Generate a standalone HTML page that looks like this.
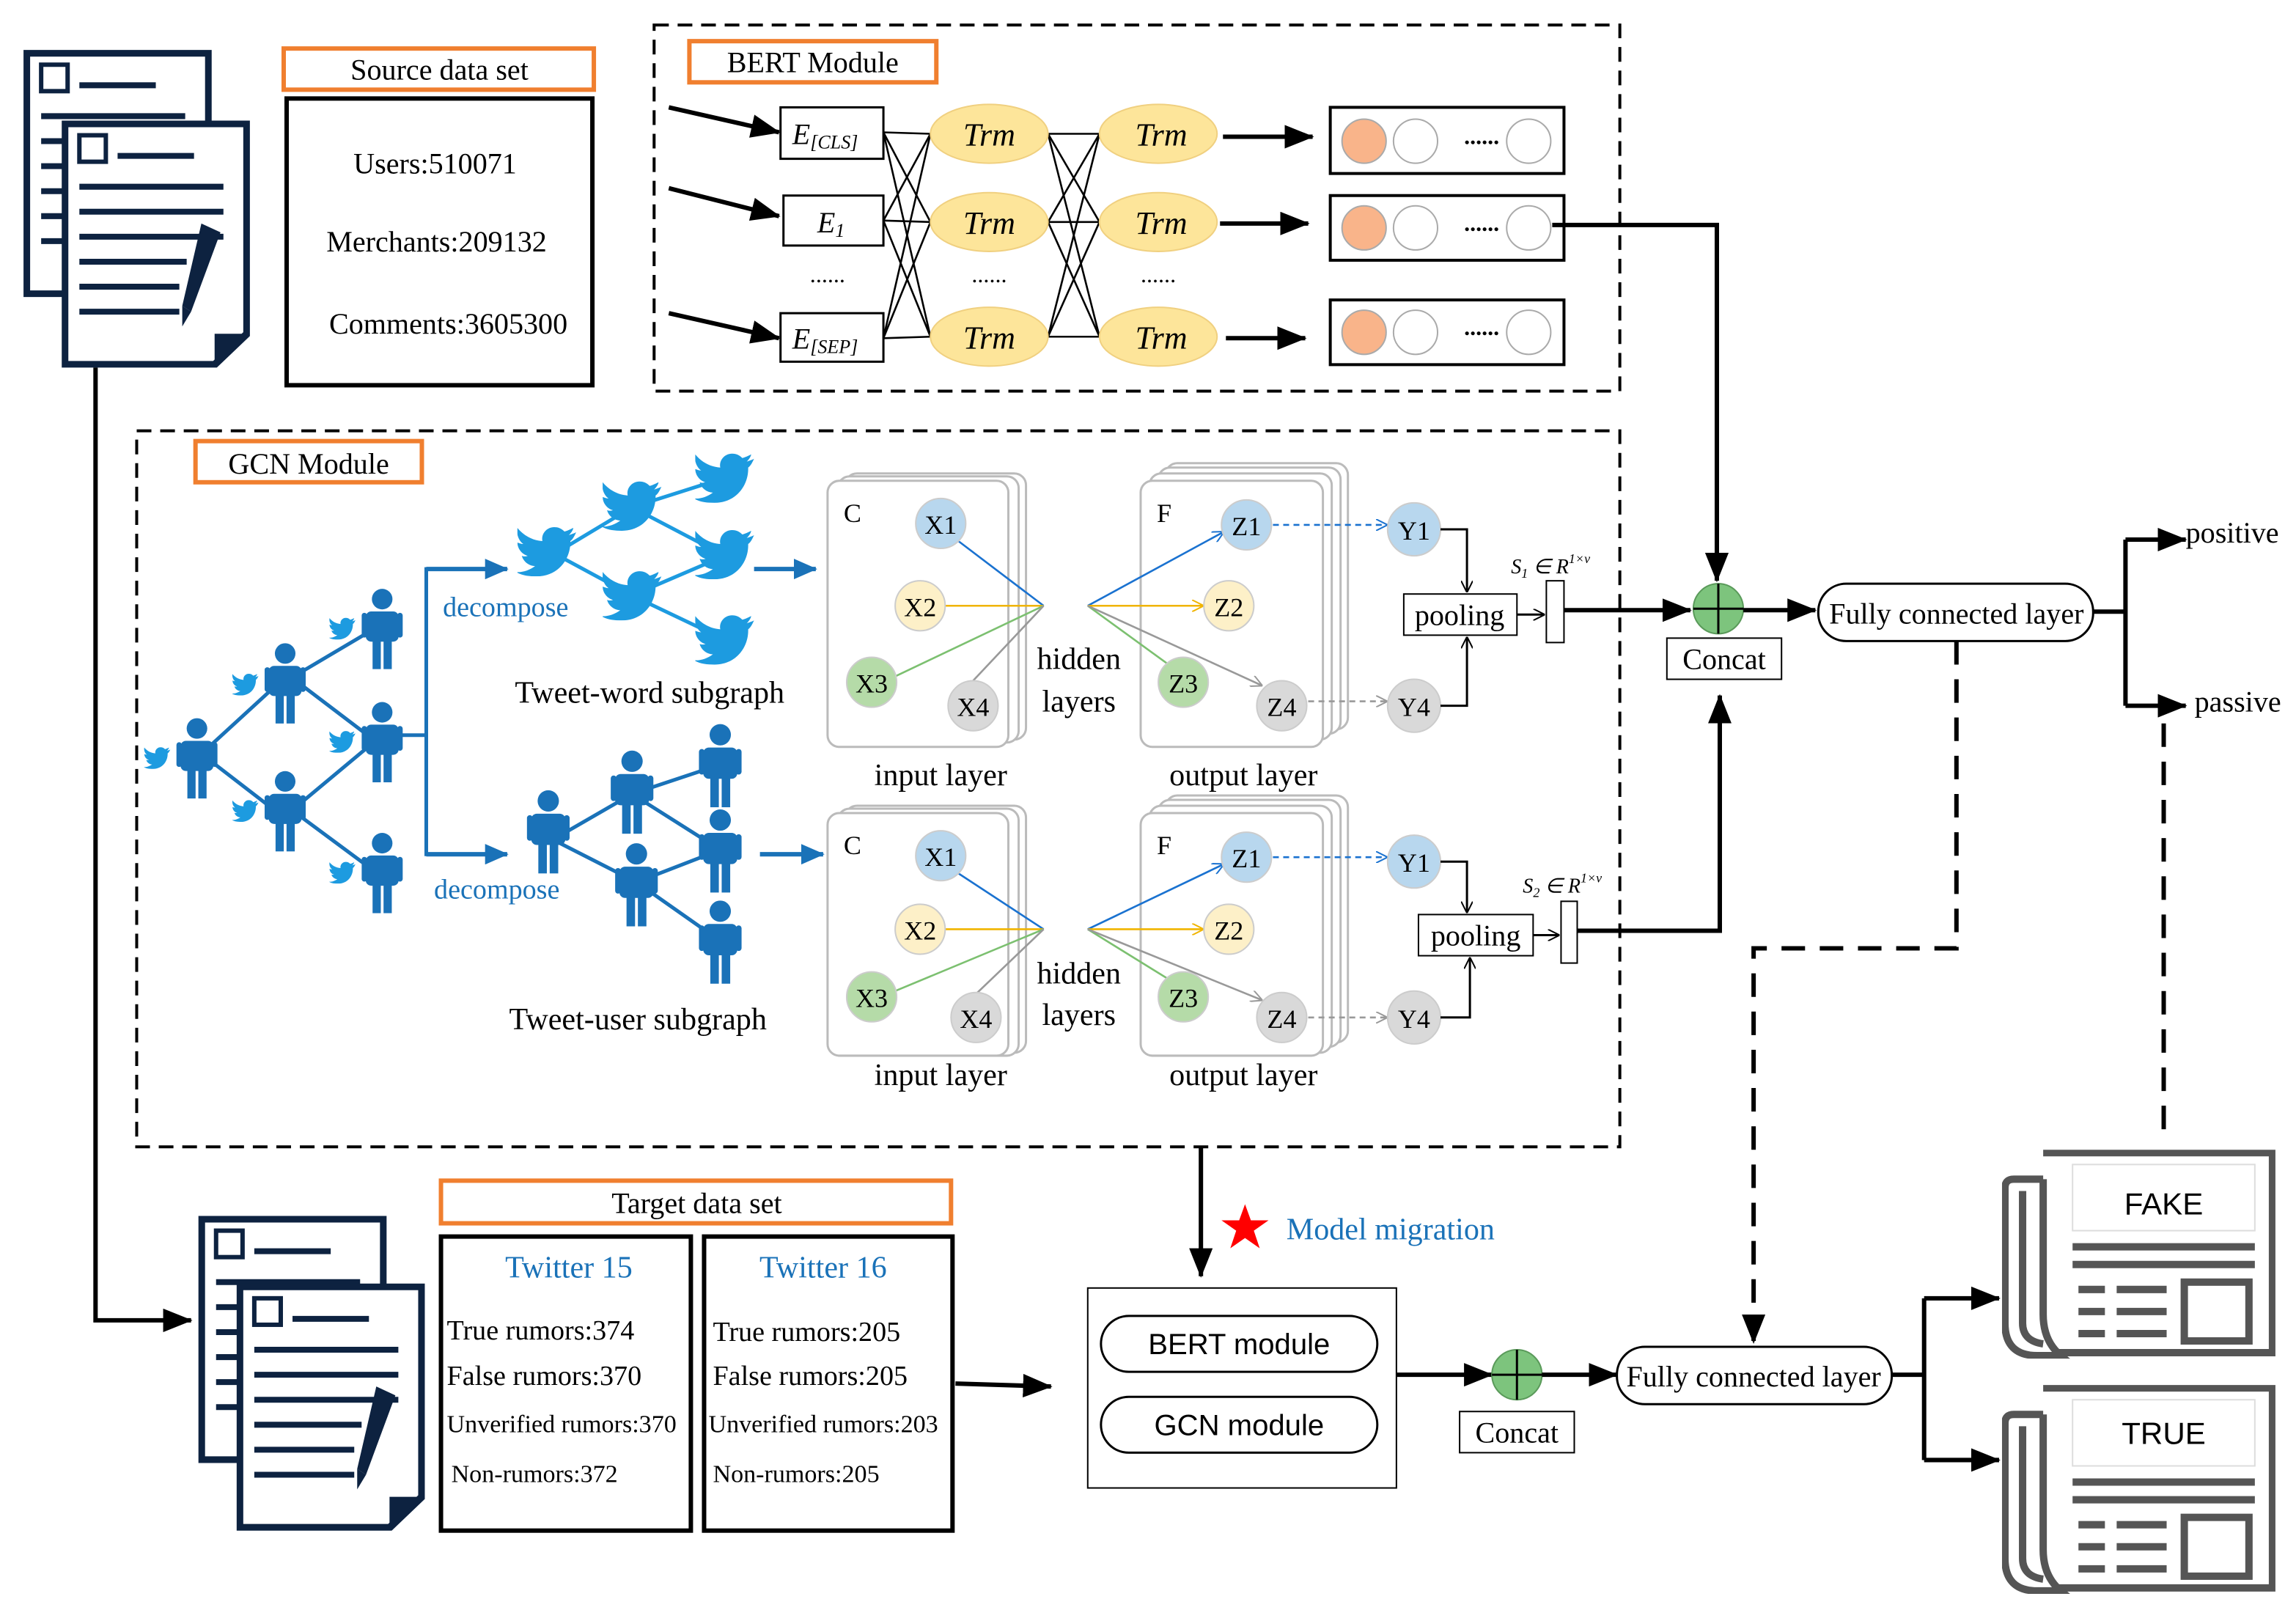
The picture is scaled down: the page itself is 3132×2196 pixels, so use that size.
<!DOCTYPE html>
<html><head><meta charset="utf-8"><style>html,body{margin:0;padding:0;background:#fff}svg{display:block}text{font-family:"Liberation Serif",serif}</style></head><body>
<svg width="3132" height="2196" viewBox="0 0 1562 1095" preserveAspectRatio="none" xmlns="http://www.w3.org/2000/svg">
<defs>
<marker id="ab" markerWidth="8" markerHeight="8" refX="7" refY="4" orient="auto" markerUnits="userSpaceOnUse"><path d="M0,0 L8,4 L0,8 z" fill="#000"/></marker>
<marker id="abig" markerWidth="20" markerHeight="16" refX="19" refY="8" orient="auto" markerUnits="userSpaceOnUse"><path d="M0,0 L20,8 L0,16 z" fill="#000"/></marker>
<marker id="ablue" markerWidth="16" markerHeight="14" refX="15" refY="7" orient="auto" markerUnits="userSpaceOnUse"><path d="M0,0 L16,7 L0,14 z" fill="#1a72b8"/></marker>
<marker id="sb" markerWidth="8" markerHeight="8" refX="7" refY="4" orient="auto" markerUnits="userSpaceOnUse"><path d="M0,0 L8,4 L0,8" fill="none" stroke="#1a72d0"/></marker>
<marker id="sg" markerWidth="8" markerHeight="8" refX="7" refY="4" orient="auto" markerUnits="userSpaceOnUse"><path d="M0,0 L8,4 L0,8" fill="none" stroke="#999"/></marker>
<marker id="so" markerWidth="8" markerHeight="8" refX="7" refY="4" orient="auto" markerUnits="userSpaceOnUse"><path d="M0,0 L8,4 L0,8" fill="none" stroke="#f0b400"/></marker>
<marker id="sk" markerWidth="8" markerHeight="8" refX="7" refY="4" orient="auto" markerUnits="userSpaceOnUse"><path d="M0,0 L8,4 L0,8" fill="none" stroke="#000"/></marker>
<symbol id="bird" viewBox="0 0 40 34"><path d="M40,4 C38,5 36,5.5 35,6 C37,4 38,2 38,1 C36,2 34,3 32,3.5 C30,1.5 28,0.5 25,0.5 C20,0.5 16,5 17,10 C10,9.5 4,6 0,1 C-1,5 1,10 4,12 C2.5,12 1.5,11.5 0,11 C0,15 3,19 7,20 C5.5,20.5 4.5,20.5 3,20 C4,24 8,27 12,27 C8,30 3,31.5 -1,31 C3,33.5 8,34 13,34 C28,34 36,22 36,11 L36,10 C38,8.5 39,6 40,4 z" fill="#1d9be0"/></symbol>
<symbol id="person" viewBox="0 0 30 60"><circle cx="15" cy="8" r="7.5" fill="#1a72b8"/><rect x="3" y="17" width="24" height="22" rx="4" fill="#1a72b8"/><rect x="8" y="38" width="6" height="21" fill="#1a72b8"/><rect x="16" y="38" width="6" height="21" fill="#1a72b8"/><rect x="0" y="18" width="4" height="18" rx="2" fill="#1a72b8"/><rect x="26" y="18" width="4" height="18" rx="2" fill="#1a72b8"/></symbol>
<symbol id="doc" viewBox="0 0 128 168"><path d="M2,2 H126 V145 L104,166 H2 Z" fill="#fff" stroke="#0d2240" stroke-width="5"/><path d="M104,166 V145 H126" fill="#0d2240"/><rect x="12" y="10" width="18" height="18" fill="none" stroke="#0d2240" stroke-width="3"/><g stroke="#0d2240" stroke-width="4"><line x1="38" y1="24" x2="90" y2="24"/><line x1="12" y1="45" x2="110" y2="45"/><line x1="12" y1="62" x2="110" y2="62"/><line x1="12" y1="79" x2="110" y2="79"/><line x1="12" y1="96" x2="85" y2="96"/><line x1="12" y1="113" x2="80" y2="113"/><line x1="12" y1="130" x2="80" y2="130"/></g><path d="M95,70 L108,76 L88,130 L82,126 Z" fill="#0d2240"/><path d="M82,126 L88,130 L82,140 Z" fill="#0d2240"/></symbol>
<symbol id="news" viewBox="0 0 186 142"><path d="M28,2 H184 V138 H28" fill="#fff" stroke="#555" stroke-width="5"/><path d="M28,20 H8 Q2,20 2,26 V118 Q2,140 24,140 H40 Q28,130 28,112 V20" fill="#fff" stroke="#555" stroke-width="5"/><path d="M14,28 V118 Q14,130 28,132" fill="none" stroke="#555" stroke-width="5"/><rect x="48" y="10" width="124" height="45" fill="#fff" stroke="#ddd"/><line x1="48" y1="66" x2="172" y2="66" stroke="#555" stroke-width="5"/><line x1="48" y1="78" x2="172" y2="78" stroke="#555" stroke-width="5"/><g stroke="#555" stroke-width="5"><line x1="52" y1="95" x2="70" y2="95"/><line x1="78" y1="95" x2="112" y2="95"/><line x1="52" y1="110" x2="70" y2="110"/><line x1="78" y1="110" x2="112" y2="110"/><line x1="52" y1="125" x2="70" y2="125"/><line x1="78" y1="125" x2="112" y2="125"/></g><rect x="124" y="90" width="44" height="40" fill="none" stroke="#555" stroke-width="5"/></symbol>
</defs>

<!-- top docs -->
<use href="#doc" x="16" y="34" width="128" height="168"/>
<use href="#doc" x="42" y="82" width="128" height="168"/>
<rect x="193" y="33" width="211" height="28" fill="none" stroke="#f07f2f" stroke-width="3"/>
<text x="299" y="54" font-size="20" text-anchor="middle">Source data set</text>
<rect x="195" y="67" width="208" height="195" fill="none" stroke="#000" stroke-width="3"/>
<text x="296" y="118" font-size="20" text-anchor="middle">Users:510071</text>
<text x="297" y="171" font-size="20" text-anchor="middle">Merchants:209132</text>
<text x="305" y="227" font-size="20" text-anchor="middle">Comments:3605300</text>

<!-- BERT -->
<rect x="445" y="17" width="657" height="249" fill="none" stroke="#000" stroke-width="2" stroke-dasharray="10,6"/>
<rect x="469" y="28" width="168" height="28" fill="#fff" stroke="#f07f2f" stroke-width="3"/>
<text x="553" y="49" font-size="20" text-anchor="middle">BERT Module</text>
<g stroke="#000" stroke-width="3"><line x1="455" y1="73" x2="530" y2="90" marker-end="url(#abig)"/><line x1="455" y1="128" x2="530" y2="147" marker-end="url(#abig)"/><line x1="455" y1="213" x2="530" y2="230" marker-end="url(#abig)"/></g>
<g fill="#fff" stroke="#000" stroke-width="1.5"><rect x="531" y="73" width="70" height="35"/><rect x="533" y="133" width="68" height="34"/><rect x="531" y="213" width="70" height="33"/></g>
<text x="539" y="98" font-size="20" font-style="italic">E<tspan font-size="13" dy="3">[CLS]</tspan></text>
<text x="556" y="158" font-size="20" font-style="italic">E<tspan font-size="13" dy="3">1</tspan></text>
<text x="539" y="237" font-size="20" font-style="italic">E<tspan font-size="13" dy="3">[SEP]</tspan></text>
<text x="563" y="192" font-size="16" text-anchor="middle">......</text>
<text x="673" y="192" font-size="16" text-anchor="middle">......</text>
<text x="788" y="192" font-size="16" text-anchor="middle">......</text>
<g stroke="#000" stroke-width="1.3">
<line x1="601" y1="90" x2="633" y2="91"/><line x1="601" y1="90" x2="633" y2="151"/><line x1="601" y1="90" x2="633" y2="229"/>
<line x1="601" y1="150" x2="633" y2="91"/><line x1="601" y1="150" x2="633" y2="151"/><line x1="601" y1="150" x2="633" y2="229"/>
<line x1="601" y1="230" x2="633" y2="91"/><line x1="601" y1="230" x2="633" y2="151"/><line x1="601" y1="230" x2="633" y2="229"/>
<line x1="713" y1="91" x2="748" y2="91"/><line x1="713" y1="91" x2="748" y2="151"/><line x1="713" y1="91" x2="748" y2="229"/>
<line x1="713" y1="151" x2="748" y2="91"/><line x1="713" y1="151" x2="748" y2="151"/><line x1="713" y1="151" x2="748" y2="229"/>
<line x1="713" y1="229" x2="748" y2="91"/><line x1="713" y1="229" x2="748" y2="151"/><line x1="713" y1="229" x2="748" y2="229"/>
</g>
<g fill="#fde59a" stroke="#f0d080"><ellipse cx="673" cy="91" rx="40" ry="20"/><ellipse cx="673" cy="151" rx="40" ry="20"/><ellipse cx="673" cy="229" rx="40" ry="20"/><ellipse cx="788" cy="91" rx="40" ry="20"/><ellipse cx="788" cy="151" rx="40" ry="20"/><ellipse cx="788" cy="229" rx="40" ry="20"/></g>
<g font-size="22" font-style="italic" text-anchor="middle"><text x="673" y="99">Trm</text><text x="673" y="159">Trm</text><text x="673" y="237">Trm</text><text x="790" y="99">Trm</text><text x="790" y="159">Trm</text><text x="790" y="237">Trm</text></g>
<g stroke="#000" stroke-width="3"><line x1="832" y1="93" x2="893" y2="93" marker-end="url(#abig)"/><line x1="830" y1="152" x2="890" y2="152" marker-end="url(#abig)"/><line x1="834" y1="230" x2="888" y2="230" marker-end="url(#abig)"/></g>
<g fill="none" stroke="#000" stroke-width="2"><rect x="905" y="73" width="159" height="45"/><rect x="905" y="133" width="159" height="44"/><rect x="905" y="204" width="159" height="44"/></g>
<g stroke="#aaa"><circle cx="928" cy="96" r="15" fill="#f9b48a"/><circle cx="963" cy="96" r="15" fill="#fff"/><circle cx="1040" cy="96" r="15" fill="#fff"/>
<circle cx="928" cy="155" r="15" fill="#f9b48a"/><circle cx="963" cy="155" r="15" fill="#fff"/><circle cx="1040" cy="155" r="15" fill="#fff"/>
<circle cx="928" cy="226" r="15" fill="#f9b48a"/><circle cx="963" cy="226" r="15" fill="#fff"/><circle cx="1040" cy="226" r="15" fill="#fff"/></g>
<g font-size="16" font-weight="bold" text-anchor="middle"><text x="1008" y="98">......</text><text x="1008" y="157">......</text><text x="1008" y="228">......</text></g>
<polyline points="1056,153 1168,153 1168,395" fill="none" stroke="#000" stroke-width="3" marker-end="url(#abig)"/>

<!-- GCN module -->
<rect x="93" y="293" width="1009" height="487" fill="none" stroke="#000" stroke-width="2" stroke-dasharray="10,6"/>
<rect x="133" y="300" width="154" height="28" fill="#fff" stroke="#f07f2f" stroke-width="3"/>
<text x="210" y="322" font-size="20" text-anchor="middle">GCN Module</text>
<g stroke="#1a72b8" stroke-width="2.5" fill="none"><line x1="140" y1="510" x2="188" y2="466"/><line x1="140" y1="515" x2="188" y2="552"/><line x1="200" y1="460" x2="254" y2="428"/><line x1="200" y1="462" x2="254" y2="503"/><line x1="200" y1="550" x2="254" y2="505"/><line x1="200" y1="552" x2="254" y2="592"/>
<polyline points="266,500 290,500"/><polyline points="345,387 290,387 290,581 345,581"/></g>
<line x1="290" y1="387" x2="345" y2="387" stroke="#1a72b8" stroke-width="3" marker-end="url(#ablue)"/>
<line x1="290" y1="581" x2="345" y2="581" stroke="#1a72b8" stroke-width="3" marker-end="url(#ablue)"/>
<use href="#person" x="120" y="487" width="28" height="58"/>
<use href="#person" x="180" y="436" width="28" height="58"/>
<use href="#person" x="180" y="523" width="28" height="58"/>
<use href="#person" x="246" y="399" width="28" height="58"/>
<use href="#person" x="246" y="476" width="28" height="58"/>
<use href="#person" x="246" y="565" width="28" height="58"/>
<use href="#bird" x="98" y="508" width="18" height="15"/>
<use href="#bird" x="158" y="458" width="18" height="15"/>
<use href="#bird" x="158" y="544" width="18" height="15"/>
<use href="#bird" x="224" y="420" width="18" height="15"/>
<use href="#bird" x="224" y="497" width="18" height="15"/>
<use href="#bird" x="224" y="586" width="18" height="15"/>
<text x="344" y="419" font-size="19" fill="#1a72b8" text-anchor="middle">decompose</text>
<text x="338" y="611" font-size="19" fill="#1a72b8" text-anchor="middle">decompose</text>
<g stroke="#1d9be0" stroke-width="2.5"><line x1="380" y1="375" x2="430" y2="345"/><line x1="380" y1="378" x2="430" y2="405"/><line x1="430" y1="345" x2="493" y2="325"/><line x1="430" y1="345" x2="493" y2="378"/><line x1="430" y1="405" x2="493" y2="378"/><line x1="430" y1="405" x2="493" y2="435"/></g>
<use href="#bird" x="352" y="358" width="40" height="34"/>
<use href="#bird" x="410" y="327" width="40" height="34"/>
<use href="#bird" x="410" y="388" width="40" height="34"/>
<use href="#bird" x="473" y="308" width="40" height="34"/>
<use href="#bird" x="473" y="360" width="40" height="34"/>
<use href="#bird" x="473" y="418" width="40" height="34"/>
<line x1="513" y1="387" x2="555" y2="387" stroke="#1a72b8" stroke-width="3" marker-end="url(#ablue)"/>
<text x="442" y="478" font-size="21" text-anchor="middle">Tweet-word subgraph</text>
<g stroke="#1a72b8" stroke-width="2.5"><line x1="378" y1="570" x2="430" y2="540"/><line x1="378" y1="572" x2="433" y2="600"/><line x1="430" y1="540" x2="490" y2="520"/><line x1="430" y1="540" x2="490" y2="578"/><line x1="433" y1="600" x2="490" y2="578"/><line x1="433" y1="600" x2="490" y2="640"/></g>
<use href="#person" x="356" y="537" width="34" height="58"/>
<use href="#person" x="413" y="510" width="34" height="58"/>
<use href="#person" x="416" y="573" width="34" height="58"/>
<use href="#person" x="473" y="492" width="34" height="58"/>
<use href="#person" x="473" y="550" width="34" height="58"/>
<use href="#person" x="473" y="612" width="34" height="58"/>
<line x1="517" y1="581" x2="560" y2="581" stroke="#1a72b8" stroke-width="3" marker-end="url(#ablue)"/>
<text x="434" y="700" font-size="21" text-anchor="middle">Tweet-user subgraph</text>

<!-- panel generator: panel 1 -->
<g id="p1">
<g fill="#fff" stroke="#bbb" stroke-width="1.5"><rect x="575" y="322" width="123" height="181" rx="8"/><rect x="570" y="324" width="123" height="181" rx="8"/><rect x="563" y="327" width="123" height="181" rx="8"/>
<rect x="793" y="315" width="124" height="181" rx="8"/><rect x="788" y="318" width="124" height="181" rx="8"/><rect x="782" y="322" width="124" height="181" rx="8"/><rect x="776" y="327" width="124" height="181" rx="8"/></g>
<text x="574" y="355" font-size="18">C</text><text x="787" y="355" font-size="18">F</text>
<g stroke-width="1.3" fill="none"><line x1="652" y1="368" x2="710" y2="412" stroke="#1a72d0"/><line x1="643" y1="412" x2="710" y2="412" stroke="#f0b400"/><line x1="609" y1="460" x2="710" y2="412" stroke="#7cc070"/><line x1="662" y1="463" x2="710" y2="412" stroke="#999"/>
<line x1="740" y1="412" x2="832" y2="362" stroke="#1a72d0" marker-end="url(#sb)"/><line x1="740" y1="412" x2="818" y2="412" stroke="#f0b400" marker-end="url(#so)"/><line x1="740" y1="412" x2="795" y2="452" stroke="#7cc070"/><line x1="740" y1="412" x2="858" y2="466" stroke="#999" marker-end="url(#sg)"/>
<line x1="866" y1="357" x2="943" y2="357" stroke="#1a72d0" stroke-dasharray="4,3" marker-end="url(#sb)"/><line x1="943" y1="357" x2="866" y2="357" stroke="#1a72d0" marker-end="url(#sb)" opacity="0"/>
<line x1="890" y1="477" x2="943" y2="477" stroke="#999" stroke-dasharray="4,3" marker-end="url(#sg)"/></g>
<g stroke="#ccc"><circle cx="640" cy="356" r="17" fill="#b8d7ee"/><circle cx="626" cy="412" r="17" fill="#fdf0c8"/><circle cx="593" cy="464" r="17" fill="#b5dba8"/><circle cx="662" cy="480" r="17" fill="#d9d9d9"/>
<circle cx="848" cy="357" r="17" fill="#b8d7ee"/><circle cx="836" cy="412" r="17" fill="#fdf0c8"/><circle cx="805" cy="464" r="17" fill="#b5dba8"/><circle cx="872" cy="480" r="17" fill="#d9d9d9"/>
<circle cx="962" cy="360" r="18" fill="#b8d7ee"/><circle cx="962" cy="480" r="18" fill="#d9d9d9"/></g>
<g font-size="18" text-anchor="middle"><text x="640" y="363">X1</text><text x="626" y="419">X2</text><text x="593" y="471">X3</text><text x="662" y="487">X4</text><text x="848" y="364">Z1</text><text x="836" y="419">Z2</text><text x="805" y="471">Z3</text><text x="872" y="487">Z4</text><text x="962" y="367">Y1</text><text x="962" y="487">Y4</text></g>
<g font-size="21" text-anchor="middle"><text x="734" y="455">hidden</text><text x="734" y="484">layers</text><text x="640" y="534">input layer</text><text x="846" y="534">output layer</text></g>
</g>
<g stroke="#000" stroke-width="1.5" fill="none"><polyline points="980,360 998,360 998,402" marker-end="url(#sk)"/><polyline points="980,480 998,480 998,434" marker-end="url(#sk)"/><line x1="1032" y1="418" x2="1050" y2="418" marker-end="url(#sk)"/></g>
<rect x="955" y="404" width="77" height="28" fill="#fff" stroke="#000"/>
<text x="993" y="425" font-size="20" text-anchor="middle">pooling</text>
<rect x="1052" y="395" width="12" height="42" fill="#fff" stroke="#000"/>
<text x="1028" y="390" font-size="14" font-style="italic">S<tspan font-size="9" dy="3">1</tspan><tspan dy="-3"> ∈ R</tspan><tspan font-size="9" dy="-7">1×v</tspan></text>
<line x1="1064" y1="415" x2="1150" y2="415" stroke="#000" stroke-width="3" marker-end="url(#abig)"/>

<!-- panel 2 -->
<g transform="translate(0,226)">
<g fill="#fff" stroke="#bbb" stroke-width="1.5"><rect x="575" y="322" width="123" height="168" rx="8"/><rect x="570" y="324" width="123" height="168" rx="8"/><rect x="563" y="327" width="123" height="165" rx="8"/>
<rect x="793" y="315" width="124" height="168" rx="8"/><rect x="788" y="318" width="124" height="168" rx="8"/><rect x="782" y="322" width="124" height="168" rx="8"/><rect x="776" y="327" width="124" height="165" rx="8"/></g>
<text x="574" y="355" font-size="18">C</text><text x="787" y="355" font-size="18">F</text>
<g stroke-width="1.3" fill="none"><line x1="652" y1="368" x2="710" y2="406" stroke="#1a72d0"/><line x1="643" y1="406" x2="710" y2="406" stroke="#f0b400"/><line x1="609" y1="448" x2="710" y2="406" stroke="#7cc070"/><line x1="664" y1="450" x2="710" y2="406" stroke="#999"/>
<line x1="740" y1="406" x2="832" y2="362" stroke="#1a72d0" marker-end="url(#sb)"/><line x1="740" y1="406" x2="818" y2="406" stroke="#f0b400" marker-end="url(#so)"/><line x1="740" y1="406" x2="795" y2="440" stroke="#7cc070"/><line x1="740" y1="406" x2="858" y2="454" stroke="#999" marker-end="url(#sg)"/>
<line x1="866" y1="357" x2="943" y2="357" stroke="#1a72d0" stroke-dasharray="4,3" marker-end="url(#sb)"/>
<line x1="890" y1="466" x2="943" y2="466" stroke="#999" stroke-dasharray="4,3" marker-end="url(#sg)"/></g>
<g stroke="#ccc"><circle cx="640" cy="356" r="17" fill="#b8d7ee"/><circle cx="626" cy="406" r="17" fill="#fdf0c8"/><circle cx="593" cy="452" r="17" fill="#b5dba8"/><circle cx="664" cy="466" r="17" fill="#d9d9d9"/>
<circle cx="848" cy="357" r="17" fill="#b8d7ee"/><circle cx="836" cy="406" r="17" fill="#fdf0c8"/><circle cx="805" cy="452" r="17" fill="#b5dba8"/><circle cx="872" cy="466" r="17" fill="#d9d9d9"/>
<circle cx="962" cy="360" r="18" fill="#b8d7ee"/><circle cx="962" cy="466" r="18" fill="#d9d9d9"/></g>
<g font-size="18" text-anchor="middle"><text x="640" y="363">X1</text><text x="626" y="413">X2</text><text x="593" y="459">X3</text><text x="664" y="473">X4</text><text x="848" y="364">Z1</text><text x="836" y="413">Z2</text><text x="805" y="459">Z3</text><text x="872" y="473">Z4</text><text x="962" y="367">Y1</text><text x="962" y="473">Y4</text></g>
<g font-size="21" text-anchor="middle"><text x="734" y="443">hidden</text><text x="734" y="471">layers</text><text x="640" y="512">input layer</text><text x="846" y="512">output layer</text></g>
<g stroke="#000" stroke-width="1.5" fill="none"><polyline points="980,360 998,360 998,394" marker-end="url(#sk)"/><polyline points="980,466 1000,466 1000,426" marker-end="url(#sk)"/><line x1="1043" y1="410" x2="1060" y2="410" marker-end="url(#sk)"/></g>
<rect x="965" y="396" width="78" height="28" fill="#fff" stroke="#000"/>
<text x="1004" y="417" font-size="20" text-anchor="middle">pooling</text>
<rect x="1062" y="387" width="11" height="42" fill="#fff" stroke="#000"/>
<text x="1036" y="381" font-size="14" font-style="italic">S<tspan font-size="9" dy="3">2</tspan><tspan dy="-3"> ∈ R</tspan><tspan font-size="9" dy="-7">1×v</tspan></text>
</g>
<polyline points="1073,633 1170,633 1170,473" fill="none" stroke="#000" stroke-width="3" marker-end="url(#abig)"/>

<!-- concat top -->
<circle cx="1169" cy="414" r="17" fill="#7dc47d" stroke="#5a9a5a"/>
<line x1="1152" y1="414" x2="1186" y2="414" stroke="#000" stroke-width="1.5"/><line x1="1169" y1="397" x2="1169" y2="431" stroke="#000" stroke-width="1.5"/>
<rect x="1134" y="434" width="78" height="28" fill="#fff" stroke="#000"/>
<text x="1173" y="455" font-size="20" text-anchor="middle">Concat</text>
<line x1="1186" y1="415" x2="1235" y2="415" stroke="#000" stroke-width="3" marker-end="url(#abig)"/>
<rect x="1237" y="397" width="187" height="39" rx="19" fill="#fff" stroke="#000" stroke-width="1.5"/>
<text x="1331" y="424" font-size="20" text-anchor="middle">Fully connected layer</text>
<g stroke="#000" stroke-width="3" fill="none"><line x1="1424" y1="416" x2="1446" y2="416"/><line x1="1446" y1="367" x2="1446" y2="480"/><line x1="1446" y1="367" x2="1487" y2="367" marker-end="url(#abig)"/><line x1="1446" y1="480" x2="1487" y2="480" marker-end="url(#abig)"/></g>
<text x="1487" y="369" font-size="20">positive</text>
<text x="1493" y="484" font-size="20">passive</text>
<polyline points="1331,436 1331,645 1193,645 1193,913" fill="none" stroke="#000" stroke-width="3" stroke-dasharray="16,10" marker-end="url(#abig)"/>
<line x1="1472" y1="492" x2="1472" y2="775" stroke="#000" stroke-width="3" stroke-dasharray="16,10"/>
<use href="#news" x="1362" y="782" width="186" height="142"/>
<use href="#news" x="1362" y="942" width="186" height="142"/>
<text x="1472" y="826" font-size="21" font-family="Liberation Sans, sans-serif" text-anchor="middle" style="font-family:'Liberation Sans',sans-serif">FAKE</text>
<text x="1472" y="982" font-size="21" text-anchor="middle" style="font-family:'Liberation Sans',sans-serif">TRUE</text>

<!-- left link and bottom docs -->
<polyline points="65,250 65,898 130,898" fill="none" stroke="#000" stroke-width="3" marker-end="url(#abig)"/>
<use href="#doc" x="135" y="827" width="128" height="168"/>
<use href="#doc" x="161" y="873" width="128" height="168"/>
<rect x="300" y="803" width="347" height="29" fill="none" stroke="#f07f2f" stroke-width="3"/>
<text x="474" y="825" font-size="20" text-anchor="middle">Target data set</text>
<rect x="300" y="841" width="170" height="200" fill="none" stroke="#000" stroke-width="3"/>
<rect x="479" y="841" width="169" height="200" fill="none" stroke="#000" stroke-width="3"/>
<text x="387" y="869" font-size="21" fill="#1a72b8" text-anchor="middle">Twitter 15</text>
<text x="560" y="869" font-size="21" fill="#1a72b8" text-anchor="middle">Twitter 16</text>
<g font-size="19"><text x="304" y="911">True rumors:374</text><text x="304" y="942">False rumors:370</text><text x="304" y="974" font-size="17">Unverified rumors:370</text><text x="307" y="1008" font-size="17">Non-rumors:372</text>
<text x="485" y="912">True rumors:205</text><text x="485" y="942">False rumors:205</text><text x="482" y="974" font-size="17">Unverified rumors:203</text><text x="485" y="1008" font-size="17">Non-rumors:205</text></g>
<line x1="650" y1="941" x2="715" y2="943" stroke="#000" stroke-width="3" marker-end="url(#abig)"/>
<line x1="817" y1="780" x2="817" y2="868" stroke="#000" stroke-width="3" marker-end="url(#abig)"/>
<polygon points="847,819 851,830 863,830 853,837 857,849 847,842 837,849 841,837 831,830 843,830" fill="#f00"/>
<text x="946" y="843" font-size="21" fill="#1a72b8" text-anchor="middle">Model migration</text>
<rect x="740" y="876" width="210" height="136" fill="none" stroke="#000" stroke-width="1"/>
<rect x="749" y="895" width="188" height="38" rx="19" fill="#fff" stroke="#000" stroke-width="1.5"/>
<rect x="749" y="950" width="188" height="38" rx="19" fill="#fff" stroke="#000" stroke-width="1.5"/>
<text x="843" y="921" font-size="20" text-anchor="middle" style="font-family:'Liberation Sans',sans-serif">BERT module</text>
<text x="843" y="976" font-size="20" text-anchor="middle" style="font-family:'Liberation Sans',sans-serif">GCN module</text>
<line x1="950" y1="935" x2="1015" y2="935" stroke="#000" stroke-width="3" marker-end="url(#abig)"/>
<circle cx="1032" cy="935" r="17" fill="#7dc47d" stroke="#5a9a5a"/>
<line x1="1015" y1="935" x2="1049" y2="935" stroke="#000" stroke-width="1.5"/><line x1="1032" y1="918" x2="1032" y2="952" stroke="#000" stroke-width="1.5"/>
<rect x="993" y="960" width="78" height="28" fill="#fff" stroke="#000"/>
<text x="1032" y="981" font-size="20" text-anchor="middle">Concat</text>
<line x1="1049" y1="935" x2="1100" y2="935" stroke="#000" stroke-width="3" marker-end="url(#abig)"/>
<rect x="1100" y="916" width="187" height="39" rx="19" fill="#fff" stroke="#000" stroke-width="1.5"/>
<text x="1193" y="943" font-size="20" text-anchor="middle">Fully connected layer</text>
<g stroke="#000" stroke-width="3" fill="none"><line x1="1287" y1="935" x2="1309" y2="935"/><line x1="1309" y1="883" x2="1309" y2="993"/><line x1="1309" y1="883" x2="1360" y2="883" marker-end="url(#abig)"/><line x1="1309" y1="993" x2="1360" y2="993" marker-end="url(#abig)"/></g>
</svg>
</body></html>
